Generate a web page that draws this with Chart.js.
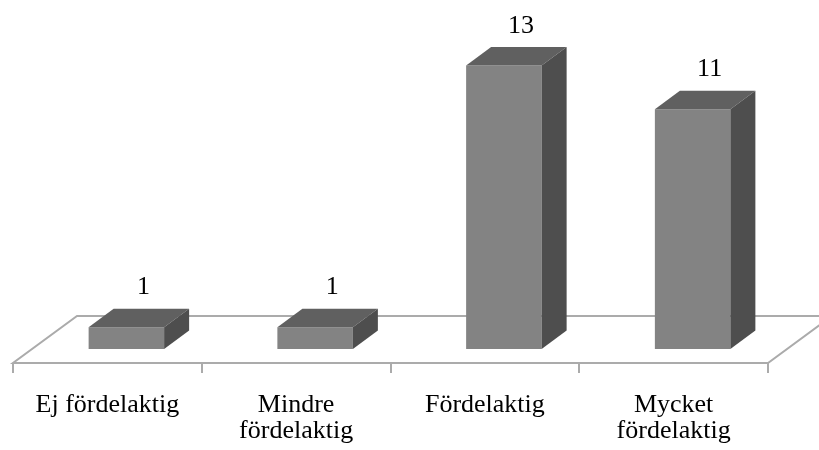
<!DOCTYPE html>
<html>
<head>
<meta charset="utf-8">
<script src="https://cdn.jsdelivr.net/npm/chart.js@4/dist/chart.umd.min.js"></script>
<style>
  html, body { margin: 0; padding: 0; background: #ffffff; }
  #wrap { width: 819px; height: 450px; }
</style>
</head>
<body>
<div id="wrap"><canvas id="chart" width="819" height="450"></canvas></div>
<script>
// Answer categories and number of responses
const categories = ['Ej fördelaktig', ['Mindre', 'fördelaktig'], 'Fördelaktig', ['Mycket', 'fördelaktig']];
const counts = [1, 1, 13, 11];

// Pseudo-3D geometry (pixels)
const FLOOR_DX = 64, FLOOR_DY = -47;   // depth of the floor plane
const BAR_SHIFT_X = 19, BAR_SHIFT_Y = -14; // bars sit a little back on the floor
const BAR_DX = 25, BAR_DY = -18.5;     // depth of each box

const FRONT = '#838383', TOP = '#606060', SIDE = '#4e4e4e', FLOOR_LINE = '#ababab';
const SERIF = '"Liberation Serif", "Times New Roman", serif';

const box3d = {
  id: 'box3d',
  beforeDatasetsDraw(chart) {
    const { ctx, chartArea: a } = chart;
    // floor plane
    ctx.save();
    ctx.beginPath();
    ctx.moveTo(a.left, a.bottom);
    ctx.lineTo(a.right, a.bottom);
    ctx.lineTo(a.right + FLOOR_DX, a.bottom + FLOOR_DY);
    ctx.lineTo(a.left + FLOOR_DX, a.bottom + FLOOR_DY);
    ctx.closePath();
    ctx.fillStyle = '#ffffff';
    ctx.fill();
    ctx.lineWidth = 2;
    ctx.strokeStyle = FLOOR_LINE;
    ctx.lineJoin = 'miter';
    ctx.stroke();
    ctx.restore();
    // front faces are drawn by the bar controller, shifted back onto the floor
    ctx.save();
    ctx.translate(BAR_SHIFT_X, BAR_SHIFT_Y);
  },
  afterDatasetsDraw(chart) {
    const { ctx } = chart;
    const meta = chart.getDatasetMeta(0);
    meta.data.forEach((el) => {
      const p = el.getProps(['x', 'y', 'base', 'width'], true);
      const x0 = p.x - p.width / 2, x1 = p.x + p.width / 2;
      // top face
      ctx.beginPath();
      ctx.moveTo(x0, p.y);
      ctx.lineTo(x1, p.y);
      ctx.lineTo(x1 + BAR_DX, p.y + BAR_DY);
      ctx.lineTo(x0 + BAR_DX, p.y + BAR_DY);
      ctx.closePath();
      ctx.fillStyle = TOP;
      ctx.fill();
      // side face
      ctx.beginPath();
      ctx.moveTo(x1, p.y);
      ctx.lineTo(x1 + BAR_DX, p.y + BAR_DY);
      ctx.lineTo(x1 + BAR_DX, p.base + BAR_DY);
      ctx.lineTo(x1, p.base);
      ctx.closePath();
      ctx.fillStyle = SIDE;
      ctx.fill();
    });
    ctx.restore();

    // value labels above each box
    ctx.save();
    ctx.font = '26px ' + SERIF;
    ctx.fillStyle = '#000000';
    ctx.textAlign = 'center';
    ctx.textBaseline = 'alphabetic';
    meta.data.forEach((el, i) => {
      const p = el.getProps(['x', 'y'], true);
      ctx.fillText(String(counts[i]), p.x + 36, p.y - 47);
    });
    ctx.restore();
  }
};

new Chart(document.getElementById('chart'), {
  type: 'bar',
  data: {
    labels: categories,
    datasets: [{
      data: counts,
      backgroundColor: FRONT,
      borderWidth: 0,
      categoryPercentage: 1.0,
      barPercentage: 0.4,
      clip: false
    }]
  },
  options: {
    responsive: false,
    animation: false,
    events: [],
    layout: { padding: { top: 36, left: 13, right: 51, bottom: 0 } },
    plugins: { legend: { display: false }, tooltip: { enabled: false } },
    scales: {
      x: {
        offset: true,
        border: { display: false },
        grid: {
          offset: true,
          drawOnChartArea: false,
          drawTicks: true,
          tickLength: 10,
          lineWidth: 2,
          color: FLOOR_LINE
        },
        ticks: {
          padding: 19,
          color: '#000000',
          maxRotation: 0,
          autoSkip: false,
          font: { family: SERIF, size: 26, lineHeight: 1.0 }
        },
        afterFit(scale) { scale.height = 87; }
      },
      y: {
        display: false,
        min: 0,
        max: 15
      }
    }
  },
  plugins: [box3d]
});
</script>
</body>
</html>
